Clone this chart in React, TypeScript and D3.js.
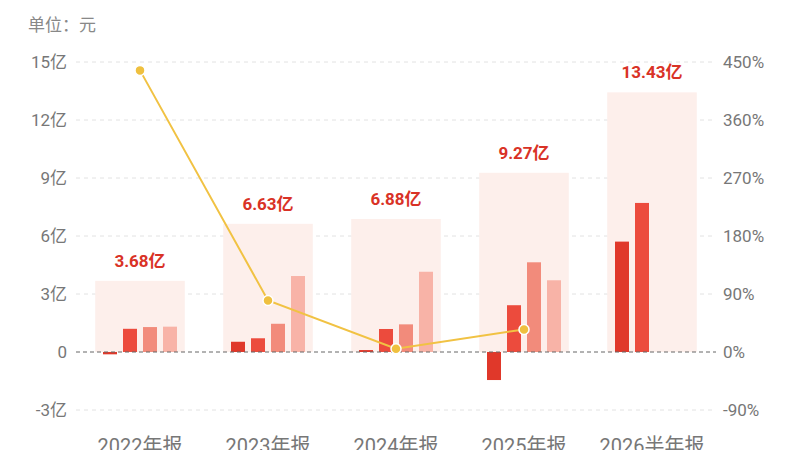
import React, { useEffect, useRef } from 'react';
import * as d3 from 'd3';

const categories = ['2022年报', '2023年报', '2024年报', '2025年报', '2026半年报'];
const totals = [3.68, 6.63, 6.88, 9.27, 13.43]; // 亿
const seriesA = [-0.12, 0.53, 0.1, -1.45, 5.71];
const seriesB = [1.2, 0.71, 1.19, 2.42, 7.71];
const seriesC = [1.29, 1.46, 1.43, 4.64, null];
const seriesD = [1.31, 3.93, 4.15, 3.71, null];
const growth = [437, 80, 5, 35, null]; // %
const leftTicks = [-3, 0, 3, 6, 9, 12, 15];
const rightTicks = [-90, 0, 90, 180, 270, 360, 450];

const barColors = ['#e0382a', '#ec4b3d', '#f28b7b', '#f8b3a7'];

export default function App() {
  const svgRef = useRef<SVGSVGElement>(null);

  useEffect(() => {
    if (!svgRef.current) return;
    const width = 800;
    const height = 450;
    const svg = d3.select(svgRef.current);
    svg.selectAll('*').remove();
    svg.attr('width', width).attr('height', height);

    const font = 'Roboto, "Noto Sans CJK SC", sans-serif';

    const x = d3.scaleBand<string>().domain(categories).range([76, 716]).paddingInner(0.3).paddingOuter(0.15);
    const inner = d3.scaleBand<number>().domain([0, 1, 2, 3]).range([0, x.bandwidth()]).paddingInner(0.3).paddingOuter(0.39);
    const y = d3.scaleLinear().domain([-3, 15]).range([410, 62]);
    const y2 = d3.scaleLinear().domain([-90, 450]).range([410, 62]);

    // unit label
    svg.append('text')
      .attr('x', 28).attr('y', 31)
      .attr('fill', '#888').attr('font-size', 17).attr('font-family', font)
      .text('单位：元');

    // grid
    svg.selectAll('.grid')
      .data(leftTicks.filter((t) => t !== 0))
      .enter()
      .append('line')
      .attr('x1', 76).attr('x2', 716)
      .attr('y1', (d) => y(d)).attr('y2', (d) => y(d))
      .attr('stroke', '#e2e2e2').attr('stroke-dasharray', '4,4').attr('stroke-width', 1);

    // left axis labels
    svg.selectAll('.ly')
      .data(leftTicks)
      .enter()
      .append('text')
      .attr('x', 67).attr('y', (d) => y(d))
      .attr('dy', '0.35em').attr('text-anchor', 'end')
      .attr('fill', '#777').attr('font-size', 17).attr('font-family', font)
      .text((d) => (d === 0 ? '0' : `${d}亿`));

    // right axis labels
    svg.selectAll('.ry')
      .data(rightTicks)
      .enter()
      .append('text')
      .attr('x', 723).attr('y', (d) => y2(d))
      .attr('dy', '0.35em').attr('text-anchor', 'start')
      .attr('fill', '#777').attr('font-size', 17).attr('font-family', font)
      .text((d) => `${d}%`);

    // background total rects
    svg.selectAll('.bg')
      .data(categories)
      .enter()
      .append('rect')
      .attr('x', (d) => x(d)!)
      .attr('width', x.bandwidth())
      .attr('y', (_, i) => y(totals[i]))
      .attr('height', (_, i) => y(0) - y(totals[i]))
      .attr('fill', '#fdefeb');

    // bars
    const series = [seriesA, seriesB, seriesC, seriesD];
    series.forEach((s, si) => {
      const data = categories
        .map((c, i) => ({ c, v: s[i] }))
        .filter((d) => d.v !== null) as { c: string; v: number }[];
      svg.selectAll(`.bar${si}`)
        .data(data)
        .enter()
        .append('rect')
        .attr('x', (d) => x(d.c)! + inner(si)!)
        .attr('width', inner.bandwidth())
        .attr('y', (d) => y(Math.max(0, d.v)))
        .attr('height', (d) => Math.abs(y(d.v) - y(0)))
        .attr('fill', barColors[si]);
    });

    // zero line
    svg.append('line')
      .attr('x1', 76).attr('x2', 716)
      .attr('y1', y(0)).attr('y2', y(0))
      .attr('stroke', '#666').attr('stroke-dasharray', '4,3').attr('stroke-width', 1);

    // total labels
    svg.selectAll('.tl')
      .data(categories)
      .enter()
      .append('text')
      .attr('x', (d) => x(d)! + x.bandwidth() / 2)
      .attr('y', (_, i) => y(totals[i]) - 14)
      .attr('text-anchor', 'middle')
      .attr('fill', '#d93226').attr('font-size', 17).attr('font-weight', 'bold').attr('font-family', font)
      .text((_, i) => `${totals[i].toFixed(2)}亿`);

    // growth line
    const pts = categories
      .map((c, i) => ({ c, v: growth[i] }))
      .filter((d) => d.v !== null) as { c: string; v: number }[];
    const line = d3.line<{ c: string; v: number }>()
      .x((d) => x(d.c)! + x.bandwidth() / 2)
      .y((d) => y2(d.v));
    svg.append('path')
      .datum(pts)
      .attr('d', line)
      .attr('fill', 'none').attr('stroke', '#f1c243').attr('stroke-width', 2);
    svg.selectAll('.pt')
      .data(pts)
      .enter()
      .append('circle')
      .attr('cx', (d) => x(d.c)! + x.bandwidth() / 2)
      .attr('cy', (d) => y2(d.v))
      .attr('r', 5)
      .attr('fill', '#efc03f').attr('stroke', '#fff').attr('stroke-width', 1.5);

    // category labels (cut by the bottom edge, as in the source)
    svg.selectAll('.xl')
      .data(categories)
      .enter()
      .append('text')
      .attr('x', (d) => x(d)! + x.bandwidth() / 2)
      .attr('y', 453)
      .attr('text-anchor', 'middle')
      .attr('fill', '#777').attr('font-size', 20).attr('font-family', font)
      .text((d) => d);
  }, []);

  return <svg ref={svgRef} style={{ position: 'absolute', left: 0, top: 0, background: '#fff' }} />;
}
